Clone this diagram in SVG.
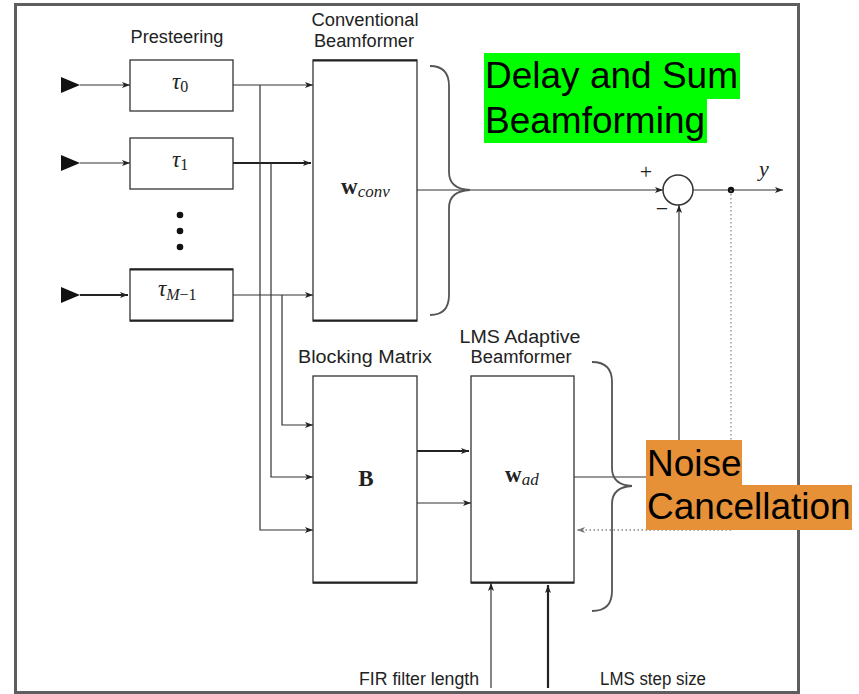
<svg xmlns="http://www.w3.org/2000/svg" width="859" height="694" viewBox="0 0 859 694">
<style>
.box{fill:#fff;stroke:#333;stroke-width:1.3}
.ln{fill:none;stroke:#333;stroke-width:1.2}
.thk{fill:none;stroke:#222;stroke-width:2.2}
.dot{fill:none;stroke:#888;stroke-width:1.3;stroke-dasharray:1.5 2.5}
.brace{fill:none;stroke:#555;stroke-width:1.8}
.lbl{font-family:"Liberation Sans",Arial,sans-serif;font-size:18px;fill:#222;text-anchor:middle}
.math{font-family:"Liberation Serif","Times New Roman",serif;fill:#222}
.big{font-family:"Liberation Sans",Arial,sans-serif;font-size:37px;fill:#000}
</style>
<defs>
<marker id="ah" viewBox="0 0 8 6" refX="8" refY="3" markerWidth="8" markerHeight="6" markerUnits="userSpaceOnUse" orient="auto">
<path d="M0,0 L8,3 L0,6 L2,3 Z" fill="#222"/>
</marker>
<marker id="ahg" viewBox="0 0 8 6" refX="8" refY="3" markerWidth="8" markerHeight="6" markerUnits="userSpaceOnUse" orient="auto">
<path d="M0,0 L8,3 L0,6 L2,3 Z" fill="#777"/>
</marker>
</defs>
<rect x="0" y="0" width="859" height="694" fill="#fff"/>
<rect id="frame" x="15.5" y="4.5" width="783" height="688" fill="none" stroke="#5e5e5e" stroke-width="3"/>

<g id="connectors">
  <path class="ln" d="M80,85 H130" marker-end="url(#ah)"/>
  <path class="ln" d="M80,163 H130" marker-end="url(#ah)"/>
  <path class="thk" d="M80,295 H128" marker-end="url(#ah)"/>
  <path class="ln" d="M233,85 H313" marker-end="url(#ah)"/>
  <path class="thk" d="M233,163 H311" marker-end="url(#ah)"/>
  <path class="ln" d="M233,295 H313" marker-end="url(#ah)"/>
  <path class="ln" d="M260,85 V530 H313" marker-end="url(#ah)"/>
  <path class="ln" d="M271,163 V477 H313" marker-end="url(#ah)"/>
  <path class="ln" d="M282,295 V425 H313" marker-end="url(#ah)"/>
  <path class="thk" d="M417,451 H469" marker-end="url(#ah)"/>
  <path class="ln" d="M417,503 H471" marker-end="url(#ah)"/>
  <path class="ln" d="M417,190 H663" marker-end="url(#ah)"/>
  <path class="ln" d="M574,477 H679 V205" marker-end="url(#ah)"/>
  <path class="ln" d="M693,190 H783" marker-end="url(#ah)"/>
  <circle cx="731" cy="190" r="3.2" fill="#111"/>
  <path class="dot" d="M731,190 V530 H577" marker-end="url(#ahg)"/>
  <path class="ln" d="M491,688 V583" marker-end="url(#ah)"/>
  <path class="thk" d="M548,688 V585" marker-end="url(#ah)"/>
</g>

<g id="mic0"><path d="M61,77 L80,85 L61,93 Z" fill="#111"/></g>
<g id="mic1"><path d="M61,155 L80,163 L61,171 Z" fill="#111"/></g>
<g id="micM"><path d="M61,287 L80,295 L61,303 Z" fill="#111"/></g>

<g id="dots">
  <circle cx="180" cy="215" r="3.3" fill="#111"/>
  <circle cx="180" cy="231" r="3.3" fill="#111"/>
  <circle cx="180" cy="247" r="3.3" fill="#111"/>
</g>

<g id="presteering-label"><text class="lbl" x="177" y="43" textLength="93" lengthAdjust="spacingAndGlyphs">Presteering</text></g>

<g id="tau0">
  <rect class="box" x="130" y="60" width="103" height="51"/>
  <text class="math" x="172" y="89" font-size="23" font-style="italic">τ<tspan font-style="normal" font-size="16" dy="3">0</tspan></text>
</g>
<g id="tau1">
  <rect class="box" x="130" y="138" width="103" height="51"/>
  <text class="math" x="172" y="167" font-size="23" font-style="italic">τ<tspan font-style="normal" font-size="16" dy="3">1</tspan></text>
</g>
<g id="tauM">
  <rect class="box" x="130" y="269" width="103" height="52"/>
  <path class="thk" d="M130,269.5 H233 M130,320.5 H233"/>
  <text class="math" x="158" y="296" font-size="23" font-style="italic">τ<tspan font-size="16" dy="4">M</tspan><tspan font-style="normal" font-size="16">−1</tspan></text>
</g>

<g id="conventional">
  <text class="lbl" x="365" y="26" textLength="107" lengthAdjust="spacingAndGlyphs">Conventional</text>
  <text class="lbl" x="364" y="47" textLength="100" lengthAdjust="spacingAndGlyphs">Beamformer</text>
  <rect class="box" x="313" y="60" width="104" height="261"/>
  <path class="thk" d="M313,60.5 H417 M313,320.5 H417"/>
  <text class="math" x="341" y="194" font-size="23" font-weight="bold">w<tspan font-weight="normal" font-style="italic" font-size="17" dy="3">conv</tspan></text>
</g>

<g id="blocking">
  <text class="lbl" x="365" y="363" textLength="134" lengthAdjust="spacingAndGlyphs">Blocking Matrix</text>
  <rect class="box" x="313" y="376" width="104" height="207"/>
  <path class="thk" d="M313,582.5 H417"/>
  <text class="math" x="366" y="486" font-size="23" font-weight="bold" text-anchor="middle">B</text>
</g>

<g id="adaptive">
  <text class="lbl" x="520" y="343" textLength="121" lengthAdjust="spacingAndGlyphs">LMS Adaptive</text>
  <text class="lbl" x="521" y="363" textLength="101" lengthAdjust="spacingAndGlyphs">Beamformer</text>
  <rect class="box" x="471" y="376" width="103" height="207"/>
  <path class="thk" d="M471,582.5 H574"/>
  <text class="math" x="505" y="482" font-size="23" font-weight="bold">w<tspan font-weight="normal" font-style="italic" font-size="17" dy="3">ad</tspan></text>
</g>

<g id="sum">
  <circle cx="678" cy="190" r="15" fill="#fff" stroke="#333" stroke-width="1.5"/>
  <text class="math" x="646" y="179" font-size="22" text-anchor="middle">+</text>
  <text class="math" x="662" y="216" font-size="22" text-anchor="middle">−</text>
  <text class="math" x="764" y="176" font-size="22" font-style="italic" text-anchor="middle">y</text>
</g>

<g id="param-labels">
  <text class="lbl" x="419" y="685" textLength="120" lengthAdjust="spacingAndGlyphs">FIR filter length</text>
  <text class="lbl" x="653" y="685" textLength="106" lengthAdjust="spacingAndGlyphs">LMS step size</text>
</g>

<g id="braces">
  <path class="brace" d="M430,66 Q449,66 449,86 V172 Q449,189 470,190 Q449,191 449,208 V295 Q449,315 430,315"/>
  <path class="brace" d="M592,362 Q612,362 612,382 V468 Q612,485 632,486 Q612,487 612,504 V591 Q612,611 592,611"/>
</g>

<g id="delay-sum-label">
  <rect x="484" y="53" width="256" height="46" fill="#00ff00"/>
  <rect x="484" y="98" width="223" height="45" fill="#00ff00"/>
  <text class="big" x="485" y="88">Delay and Sum</text>
  <text class="big" x="485" y="133">Beamforming</text>
</g>

<g id="noise-label">
  <rect x="646" y="440" width="96" height="46" fill="#e69138"/>
  <rect x="646" y="485" width="206" height="45" fill="#e69138"/>
  <text class="big" x="647" y="476">Noise</text>
  <text class="big" x="647" y="519">Cancellation</text>
</g>
</svg>
